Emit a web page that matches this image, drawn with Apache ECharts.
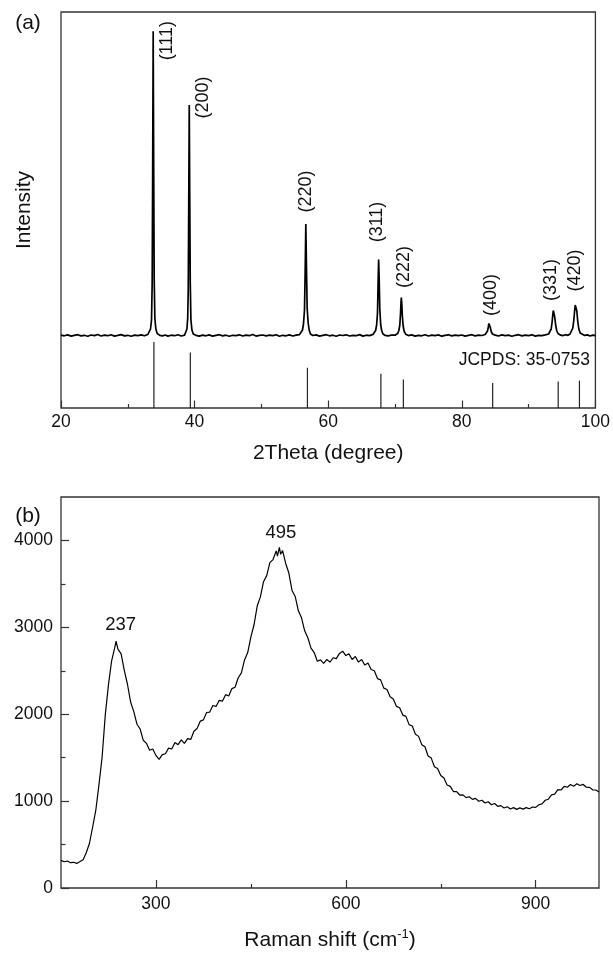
<!DOCTYPE html>
<html>
<head>
<meta charset="utf-8">
<script src="https://cdn.jsdelivr.net/npm/echarts@6/dist/echarts.min.js"></script>
<style>
  html, body { margin: 0; padding: 0; background: #fff; }
  #chart { width: 613px; height: 953px; }
</style>
</head>
<body>
<div id="chart"></div>
<script>
// (a) XRD pattern, [2theta, intensity a.u.]
const xrdPattern = [
  [20.0, 728], [20.5, 722], [21.0, 731], [21.5, 719], [22.0, 726], [22.5, 733], [23.0, 721], [23.5, 727],
  [24.0, 718], [24.5, 730], [25.0, 724], [25.5, 735], [26.0, 720], [26.5, 728], [27.0, 723], [27.5, 732],
  [28.0, 719], [28.5, 726], [29.0, 734], [29.5, 721], [30.0, 727], [30.5, 718], [31.0, 729], [31.5, 724],
  [32.0, 731], [32.5, 722], [33.0, 735],
  [33.2, 745], [33.4, 790], [33.55, 880], [33.65, 1250], [33.72, 2300], [33.8, 3768], [33.87, 2500],
  [33.95, 1300], [34.05, 900], [34.2, 790], [34.4, 745],
  [34.8, 726], [35.2, 721], [35.6, 730], [36.0, 719], [36.5, 728], [37.0, 723], [37.5, 732], [38.0, 720], [38.5, 729],
  [38.7, 742], [38.85, 790], [38.97, 900], [39.05, 1200], [39.12, 2000], [39.2, 3030], [39.27, 2150],
  [39.35, 1250], [39.45, 880], [39.6, 780], [39.8, 740],
  [40.2, 727], [40.7, 719], [41.2, 729], [41.7, 722], [42.2, 731], [42.7, 718], [43.2, 726], [43.7, 733],
  [44.2, 721], [44.7, 728], [45.2, 717], [45.7, 727], [46.2, 724], [46.7, 732], [47.2, 720], [47.7, 729],
  [48.2, 723], [48.7, 735], [49.2, 719], [49.7, 727], [50.2, 730], [50.7, 721], [51.2, 728], [51.7, 724],
  [52.2, 733], [52.7, 718], [53.2, 727], [53.7, 722], [54.2, 731], [54.7, 720], [55.2, 728], [55.7, 734],
  [55.95, 745], [56.15, 780], [56.3, 840], [56.45, 980], [56.55, 1350], [56.65, 1840], [56.75, 1400],
  [56.85, 1000], [57.0, 850], [57.15, 780], [57.35, 740],
  [57.7, 725], [58.2, 731], [58.7, 719], [59.2, 727], [59.7, 733], [60.2, 722], [60.7, 728], [61.2, 718],
  [61.7, 730], [62.2, 725], [62.7, 732], [63.2, 720], [63.7, 727], [64.2, 723], [64.7, 734], [65.2, 719],
  [65.7, 728], [66.2, 724], [66.7, 736],
  [66.9, 745], [67.1, 775], [67.25, 830], [67.38, 950], [67.47, 1250], [67.55, 1485], [67.63, 1300],
  [67.72, 1000], [67.85, 840], [68.0, 775], [68.2, 740],
  [68.5, 727], [69.0, 721], [69.5, 730], [70.0, 728],
  [70.4, 745], [70.58, 775], [70.72, 830], [70.83, 950], [70.9, 1060], [70.95, 1105], [71.02, 1040],
  [71.1, 920], [71.22, 820], [71.38, 765], [71.6, 738],
  [72.0, 724], [72.5, 731], [73.0, 719], [73.5, 727], [74.0, 722], [74.5, 733], [75.0, 720], [75.5, 728],
  [76.0, 724], [76.5, 731], [77.0, 718], [77.5, 726], [78.0, 732], [78.5, 721], [79.0, 729], [79.5, 723],
  [80.0, 730], [80.5, 719], [81.0, 727], [81.5, 733], [82.0, 721], [82.5, 728], [83.0, 725], [83.5, 735],
  [83.7, 745], [83.85, 770], [83.97, 810], [84.05, 845], [84.1, 855], [84.17, 842], [84.27, 805],
  [84.4, 765], [84.6, 740],
  [85.0, 728], [85.5, 720], [86.0, 731], [86.5, 724], [87.0, 729], [87.5, 718], [88.0, 727], [88.5, 733],
  [89.0, 721], [89.5, 729], [90.0, 724], [90.5, 732], [91.0, 719], [91.5, 727], [92.0, 723], [92.5, 731], [93.0, 740],
  [93.2, 755], [93.38, 790], [93.52, 860], [93.63, 940], [93.7, 975], [93.75, 985], [93.82, 965],
  [93.92, 905], [94.05, 830], [94.2, 775], [94.4, 745],
  [94.7, 731], [95.1, 724], [95.5, 733], [95.9, 727], [96.2, 740],
  [96.45, 760], [96.62, 800], [96.77, 880], [96.9, 980], [96.98, 1030], [97.05, 1050], [97.12, 1035],
  [97.22, 970], [97.35, 870], [97.52, 790], [97.72, 750],
  [98.0, 733], [98.4, 726], [98.8, 731], [99.2, 720], [99.6, 729], [100.0, 724]
];

const xrdPeakHkl = ['(111)', '(200)', '(220)', '(311)', '(222)', '(400)', '(331)', '(420)'];
const xrdPeakTheta = [33.8, 39.2, 56.65, 67.55, 70.95, 84.1, 93.75, 97.05];
const xrdPeakTop = [3768, 3030, 1840, 1485, 1105, 855, 985, 1050];

// JCPDS 35-0753 reference lines, relative intensity
const jcpdsTheta = [33.91, 39.36, 56.89, 67.89, 71.25, 84.62, 94.43, 97.61];
const jcpdsIntensity = [100, 84, 61, 52, 43, 38, 40, 41.5];

// (b) Raman spectrum, [shift cm-1, counts]
const ramanSpectrum = [
  [150, 318], [155, 302], [160, 310], [165, 291], [170, 296], [175, 283], [180, 304], [185, 326],
  [190, 408], [195, 515], [200, 702], [205, 895], [210, 1190], [215, 1510], [220, 1995], [225, 2340],
  [230, 2615], [235, 2770], [237, 2840], [240, 2750], [245, 2695], [250, 2505], [255, 2345], [260, 2140],
  [265, 2030], [270, 1885], [275, 1830], [280, 1700], [285, 1665], [290, 1585], [295, 1600], [300, 1525],
  [305, 1480], [310, 1535], [315, 1545], [320, 1610], [325, 1600], [330, 1675], [335, 1650], [340, 1705],
  [345, 1665], [350, 1720], [355, 1710], [360, 1805], [365, 1835], [370, 1920], [375, 1935], [380, 2020],
  [385, 2025], [390, 2100], [395, 2090], [400, 2160], [405, 2150], [410, 2225], [415, 2210], [420, 2295],
  [425, 2310], [430, 2420], [435, 2475], [440, 2625], [445, 2710], [450, 2890], [455, 3030], [460, 3245],
  [465, 3350], [470, 3525], [475, 3595], [480, 3745], [485, 3780], [490, 3880], [492, 3820], [495, 3920],
  [497, 3840], [500, 3885], [505, 3735], [510, 3625], [515, 3425], [520, 3355], [525, 3190], [530, 3110],
  [535, 2960], [540, 2880], [545, 2760], [550, 2710], [555, 2610], [560, 2625], [565, 2585], [570, 2630],
  [575, 2600], [580, 2650], [585, 2640], [590, 2700], [595, 2725], [600, 2675], [605, 2695], [610, 2630],
  [615, 2665], [620, 2600], [625, 2630], [630, 2565], [635, 2590], [640, 2515], [645, 2500], [650, 2410],
  [655, 2395], [660, 2300], [665, 2285], [670, 2200], [675, 2175], [680, 2090], [685, 2075], [690, 1990],
  [695, 1975], [700, 1880], [705, 1865], [710, 1770], [715, 1745], [720, 1650], [725, 1625], [730, 1520],
  [735, 1495], [740, 1395], [745, 1375], [750, 1295], [755, 1265], [760, 1185], [765, 1170], [770, 1110],
  [775, 1110], [780, 1070], [785, 1072], [790, 1040], [795, 1050], [800, 1020], [805, 1032], [810, 998],
  [815, 1010], [820, 978], [825, 992], [830, 958], [835, 972], [840, 940], [845, 948], [850, 920],
  [855, 935], [860, 910], [865, 925], [870, 905], [875, 922], [880, 908], [885, 925], [890, 912],
  [895, 932], [900, 928], [905, 958], [910, 968], [915, 1010], [920, 1022], [925, 1072], [930, 1080],
  [935, 1132], [940, 1128], [945, 1170], [950, 1160], [955, 1192], [960, 1172], [965, 1200], [970, 1180],
  [975, 1192], [980, 1160], [985, 1158], [990, 1130], [995, 1128], [1000, 1105]
];
const ramanPeakShift = [237, 495];
const ramanPeakTop = [2840, 3920];

const ramanXTicks = [300, 600, 900];
const ramanXMinor = [450, 750];
const ramanYTicks = [0, 1000, 2000, 3000, 4000];
const ramanYMinor = [500, 1500, 2500, 3500];

// label placement relative to each peak top (px)
const xrdLabelOffset = [[14, 10], [14, -7], [1, -32], [-1, -37], [3, -30], [2, -27], [-2, -29], [0, -32]];
const ramanLabelOffset = [[5, -16], [2, -14]];

const FONT = 'Liberation Sans, Arial, Helvetica, sans-serif';
const INK = '#111';
const FRAME = '#333';

const chart = echarts.init(document.getElementById('chart'));

const hidden = { show: false };
const tickStyle = { color: FRAME, width: 1.2 };
const plain = v => String(v);

chart.setOption({
  animation: false,
  backgroundColor: '#fff',
  textStyle: { fontFamily: FONT, color: INK },
  grid: [
    { left: 61, right: 13, top: 12, height: 396, show: true, borderColor: FRAME, borderWidth: 1.3, containLabel: false },
    { left: 61, right: 14, top: 497, height: 396, show: true, borderColor: FRAME, borderWidth: 1.3, containLabel: false }
  ],
  xAxis: [
    {
      type: 'value', gridIndex: 0, min: 20, max: 100, interval: 20,
      axisLine: hidden,
      axisTick: { inside: true, length: 7.5, lineStyle: tickStyle },
      minorTick: { show: true, splitNumber: 2, length: 4, lineStyle: tickStyle },
      splitLine: hidden, minorSplitLine: hidden,
      axisLabel: { fontSize: 17.5, color: INK, margin: 5, fontFamily: FONT, formatter: plain },
      name: '2Theta (degree)', nameLocation: 'middle', nameGap: 35,
      nameTextStyle: { fontSize: 21, color: INK, fontFamily: FONT }
    },
    {
      type: 'value', gridIndex: 1, min: 150, max: 1000, position: 'bottom',
      axisLine: hidden,
      axisTick: { inside: true, length: 8, lineStyle: tickStyle, customValues: ramanXTicks },
      splitLine: hidden,
      axisLabel: { fontSize: 17.5, color: INK, margin: 7.5, fontFamily: FONT, customValues: ramanXTicks, formatter: plain },
      name: 'Raman shift (cm{sup|-1})', nameLocation: 'middle', nameGap: 40,
      nameTextStyle: {
        fontSize: 21, color: INK, fontFamily: FONT, lineHeight: 24,
        rich: { sup: { fontSize: 13, fontFamily: FONT, color: INK, verticalAlign: 'top', lineHeight: 24 } }
      }
    },
    {
      type: 'value', gridIndex: 1, min: 150, max: 1000, position: 'bottom',
      axisLine: hidden,
      axisTick: { inside: true, length: 4, lineStyle: tickStyle, customValues: ramanXMinor },
      axisLabel: hidden, splitLine: hidden
    }
  ],
  yAxis: [
    {
      type: 'value', gridIndex: 0, min: 0, max: 3960, position: 'left',
      axisLine: hidden, axisTick: hidden, axisLabel: hidden, splitLine: hidden,
      name: 'Intensity', nameLocation: 'middle', nameGap: 26,
      nameTextStyle: { fontSize: 21, color: INK, fontFamily: FONT }
    },
    {
      type: 'value', gridIndex: 0, min: 0, max: 600, position: 'right',
      axisLine: hidden, axisTick: hidden, axisLabel: hidden, splitLine: hidden
    },
    {
      type: 'value', gridIndex: 1, min: 0, max: 4500, position: 'left',
      axisLine: hidden,
      axisTick: { inside: true, length: 8, lineStyle: tickStyle, customValues: ramanYTicks },
      axisLabel: { fontSize: 17.5, color: INK, margin: 8, fontFamily: FONT, customValues: ramanYTicks, formatter: plain },
      splitLine: hidden
    },
    {
      type: 'value', gridIndex: 1, min: 0, max: 4500, position: 'left',
      axisLine: hidden,
      axisTick: { inside: true, length: 4.5, lineStyle: tickStyle, customValues: ramanYMinor },
      axisLabel: hidden, splitLine: hidden
    }
  ],
  series: [
    {
      type: 'custom', xAxisIndex: 0, yAxisIndex: 1, silent: true,
      data: jcpdsTheta.map((t, i) => [t, jcpdsIntensity[i]]),
      renderItem: (params, api) => {
        const p0 = api.coord([api.value(0), 0]);
        const p1 = api.coord([api.value(0), api.value(1)]);
        return {
          type: 'line',
          shape: { x1: p0[0], y1: p0[1], x2: p1[0], y2: p1[1] },
          style: { stroke: '#222', lineWidth: 1.2 }
        };
      }
    },
    {
      type: 'line', xAxisIndex: 0, yAxisIndex: 0, data: xrdPattern,
      showSymbol: false, silent: true,
      lineStyle: { color: '#000', width: 1.7 }
    },
    {
      type: 'scatter', xAxisIndex: 0, yAxisIndex: 0, silent: true,
      symbolSize: 1, itemStyle: { color: 'transparent', opacity: 1 },
      data: xrdPeakTheta.map((t, i) => ({
        value: [t, xrdPeakTop[i]],
        name: xrdPeakHkl[i],
        label: { position: xrdLabelOffset[i] }
      })),
      label: {
        show: true, formatter: '{b}', rotate: 90, align: 'center', verticalAlign: 'middle',
        fontSize: 18, color: INK, fontFamily: FONT, opacity: 1
      }
    },
    {
      type: 'line', xAxisIndex: 1, yAxisIndex: 2, data: ramanSpectrum,
      showSymbol: false, silent: true,
      lineStyle: { color: '#000', width: 1.2 }
    },
    {
      type: 'scatter', xAxisIndex: 1, yAxisIndex: 2, silent: true,
      symbolSize: 1, itemStyle: { color: 'transparent', opacity: 1 },
      data: ramanPeakShift.map((s, i) => ({
        value: [s, ramanPeakTop[i]],
        name: String(s),
        label: { position: ramanLabelOffset[i] }
      })),
      label: {
        show: true, formatter: '{b}', align: 'center', verticalAlign: 'middle',
        fontSize: 18.5, color: INK, fontFamily: FONT, opacity: 1
      }
    }
  ],
  graphic: [
    { type: 'text', x: 28, y: 23, style: { text: '(a)', fontSize: 21, fontFamily: FONT, fill: INK, align: 'center', verticalAlign: 'middle' } },
    { type: 'text', x: 28, y: 516, style: { text: '(b)', fontSize: 21, fontFamily: FONT, fill: INK, align: 'center', verticalAlign: 'middle' } },
    { type: 'text', x: 590, y: 360, style: { text: 'JCPDS: 35-0753', fontSize: 17.5, fontFamily: FONT, fill: INK, align: 'right', verticalAlign: 'middle' } }
  ]
});
</script>
</body>
</html>
